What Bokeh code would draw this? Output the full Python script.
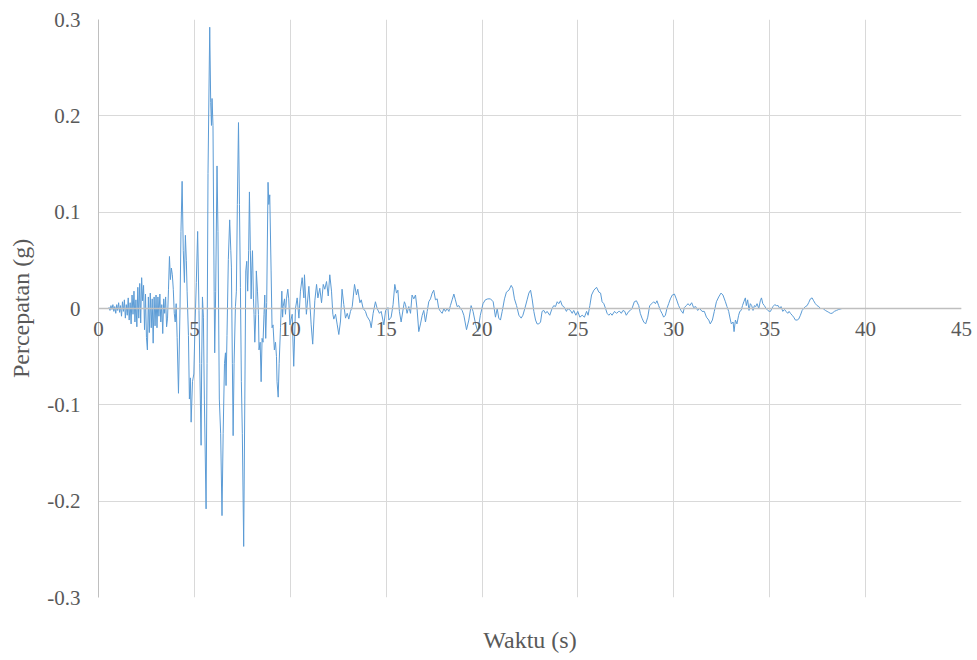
from bokeh.plotting import figure
from bokeh.models import FixedTicker, Span, CustomJSTickFormatter
from bokeh.core.properties import value
from bokeh.embed import file_html
from bokeh.resources import INLINE

# Ground acceleration record: time (s) and acceleration (g)
# 0 - 3.5 s: weak onset
t_onset = [0.00, 0.50, 0.55, 0.60, 0.65, 0.70, 0.75, 0.80, 0.85, 0.90, 0.95, 1.00, 1.05, 1.10, 1.15,
           1.20, 1.25, 1.30, 1.35, 1.40, 1.45, 1.50, 1.55, 1.60, 1.65, 1.70, 1.75, 1.80, 1.85, 1.90,
           1.95, 2.00, 2.05, 2.10, 2.15, 2.20, 2.25, 2.30, 2.35, 2.40, 2.45, 2.50, 2.55, 2.60, 2.65,
           2.70, 2.75, 2.80, 2.85, 2.90, 2.95, 3.00, 3.05, 3.10, 3.15, 3.20, 3.25, 3.30, 3.35, 3.40,
           3.45, 3.50]
a_onset = [0.000, 0.000, 0.001, -0.002, 0.003, -0.001, 0.004, -0.003, 0.002, -0.005, 0.004, -0.002,
           0.006, -0.004, 0.003, -0.008, 0.007, -0.003, 0.009, -0.010, 0.004, -0.007, 0.011, -0.012,
           0.006, -0.016, 0.014, -0.006, 0.018, -0.014, 0.009, -0.019, 0.022, -0.010, 0.026, -0.015,
           0.032, 0.008, 0.024, -0.022, 0.015, -0.030, -0.043, 0.012, -0.025, 0.016, -0.020, 0.010,
           -0.036, 0.012, -0.018, 0.014, -0.020, 0.012, -0.008, 0.015, -0.014, 0.004, -0.026, 0.010,
           -0.005, 0.012]

# 3.5 - 10 s: strong motion
t_strong = [3.55, 3.60, 3.65, 3.70, 3.75, 3.80, 3.85, 3.90, 3.95, 4.00, 4.05, 4.10, 4.17, 4.25, 4.30,
            4.36, 4.42,
            4.48, 4.53, 4.58, 4.62, 4.69, 4.74, 4.79, 4.83, 4.90, 4.97, 5.03, 5.10, 5.17, 5.24, 5.28,
            5.35, 5.38, 5.42, 5.47, 5.52, 5.61, 5.66, 5.71, 5.80, 5.85, 5.89, 5.92, 5.97, 6.03, 6.06,
            6.11, 6.18, 6.23, 6.30, 6.37, 6.44, 6.50, 6.57, 6.62, 6.65, 6.70, 6.77, 6.84, 6.90, 6.93,
            6.98, 7.02, 7.07, 7.14, 7.19, 7.24, 7.30, 7.35, 7.40, 7.45, 7.50, 7.57, 7.63, 7.68, 7.73,
            7.78, 7.83, 7.87, 7.92, 7.96, 7.99, 8.03, 8.08, 8.11, 8.15, 8.20, 8.23, 8.29, 8.34, 8.37,
            8.43, 8.48, 8.53, 8.58, 8.63, 8.67, 8.72, 8.77, 8.84, 8.88, 8.93, 9.00, 9.05, 9.10, 9.17,
            9.23, 9.28, 9.31, 9.37, 9.42, 9.49, 9.56, 9.60, 9.63, 9.70, 9.75, 9.80, 9.87, 9.92]
a_strong = [-0.019, -0.010, 0.020, 0.054, 0.030, 0.042, 0.035, 0.020, -0.005, -0.014, 0.005, -0.030,
            -0.088, 0.000, 0.080, 0.132, 0.060,
            0.027, 0.076, 0.050, 0.018, -0.028, -0.094, -0.072, -0.118, -0.076, -0.068, -0.020, 0.027,
            0.080, -0.002, -0.057, -0.142, -0.057, 0.012, -0.009, -0.094, -0.208, -0.057, 0.140, 0.292,
            0.214, 0.190, 0.218, 0.190, 0.018, -0.046, 0.018, 0.148, 0.080, -0.094, -0.130, -0.215,
            -0.130, -0.057, -0.046, -0.080, -0.028, 0.051, 0.092, 0.060, 0.043, -0.057, -0.132, -0.057,
            0.002, 0.018, 0.108, 0.193, 0.108, 0.022, -0.076, -0.130, -0.247, -0.094, 0.039, 0.049,
            0.018, 0.060, 0.121, 0.060, 0.010, 0.039, 0.060, 0.010, -0.006, -0.035, -0.006, 0.039,
            0.018, -0.006, -0.043, -0.035, -0.076, -0.031, -0.035, -0.006, 0.014, -0.031, 0.006, 0.131,
            0.108, 0.118, 0.039, -0.020, -0.017, -0.043, -0.035, -0.050, -0.076, -0.092, -0.057, -0.020,
            0.018, -0.009, 0.002, 0.010, -0.006, 0.010, 0.020, 0.010]

# 10 - 20.5 s: decay
t_decay = [9.98, 10.10, 10.18, 10.27, 10.36, 10.45, 10.53, 10.62, 10.71, 10.74, 10.84, 10.97, 11.09,
           11.17, 11.28, 11.37, 11.44, 11.54, 11.63, 11.72, 11.80, 11.89, 11.98, 12.06, 12.15, 12.22,
           12.27, 12.36, 12.45, 12.53, 12.62, 12.70, 12.79, 12.88, 12.97, 13.05, 13.14, 13.23, 13.35,
           13.45, 13.52, 13.63, 13.70, 13.80, 13.92, 14.00, 14.15, 14.22, 14.32, 14.44, 14.53, 14.65,
           14.74, 14.88, 14.97, 15.09, 15.14,
           15.26, 15.36, 15.45, 15.54, 15.61, 15.69, 15.78, 15.89, 15.95, 16.01, 16.09, 16.18, 16.27,
           16.35, 16.44, 16.53, 16.61, 16.70, 16.79, 16.88, 16.96, 17.05, 17.14, 17.22, 17.31, 17.40,
           17.48, 17.57, 17.66, 17.74, 17.83, 17.92, 18.01, 18.09, 18.18, 18.27, 18.35, 18.44, 18.53,
           18.61, 18.70, 18.79, 18.87, 18.96, 19.05, 19.19, 19.31, 19.43, 19.53, 19.66, 19.78, 19.91,
           20.05, 20.17, 20.30, 20.44]
a_decay = [-0.017, -0.006, -0.060, 0.000, 0.011, -0.010, 0.018, 0.032, 0.011, 0.035, -0.006, 0.023,
           -0.017, -0.037, 0.008, 0.025, 0.011, 0.021, 0.006, 0.025, 0.020, 0.028, 0.013, 0.035, 0.018,
           -0.006, -0.011, -0.006, -0.017, -0.027, -0.013, 0.020, 0.004, -0.010, -0.005, -0.011, -0.003,
           0.002, 0.025, 0.014, 0.020, 0.006, 0.009, 0.000, -0.003, -0.008, -0.013, -0.020, -0.005,
           0.007, 0.000, -0.005, -0.003, -0.017, -0.002, 0.001, -0.012,
           -0.009, 0.004, 0.025, 0.016, 0.019, -0.003, -0.014, 0.000, 0.007, 0.004, -0.005, 0.002,
           -0.005, 0.014, 0.010, 0.014, 0.000, -0.024, -0.016, -0.007, -0.002, -0.014, -0.003, 0.007,
           0.010, 0.016, 0.019, 0.009, 0.010, 0.000, -0.003, -0.005, 0.000, -0.003, 0.000, -0.003,
           0.003, 0.009, 0.015, 0.009, 0.002, 0.003, 0.000, -0.002, -0.007, -0.022, -0.012, 0.003,
           -0.003, -0.016, -0.024, -0.007, 0.005, 0.009, 0.010, 0.010]

# 20.5 - 40 s: coda
t_coda = [20.58, 20.70, 20.79, 20.87, 20.96, 21.05, 21.17, 21.27, 21.40, 21.52, 21.60, 21.69, 21.80,
          21.92, 22.04, 22.13, 22.23, 22.35, 22.44, 22.53, 22.61, 22.70, 22.79, 22.87, 22.96, 23.05,
          23.13, 23.22, 23.31, 23.39, 23.53, 23.65, 23.74, 23.83, 23.92, 24.00, 24.09, 24.18, 24.26,
          24.40, 24.47, 24.61, 24.70, 24.78, 24.89, 24.99, 25.10, 25.22, 25.34, 25.45, 25.53, 25.62,
          25.71, 25.83, 25.97, 26.09, 26.18, 26.26, 26.35, 26.44, 26.52, 26.61, 26.70, 26.78, 26.91,
          27.01, 27.13,
          27.18, 27.26, 27.35, 27.44, 27.52, 27.65, 27.73, 27.82, 27.94, 28.05, 28.17, 28.25, 28.34,
          28.43, 28.53, 28.64, 28.74, 28.85, 28.95, 29.04, 29.12, 29.21, 29.30, 29.38, 29.47, 29.56,
          29.64, 29.73, 29.82, 29.92, 30.03, 30.13, 30.25, 30.37, 30.48, 30.55, 30.65, 30.74, 30.83,
          30.93, 31.03, 31.14, 31.24, 31.35, 31.47, 31.59, 31.70, 31.82, 31.90, 32.01, 32.11, 32.22,
          32.34, 32.46, 32.56, 32.69, 32.77, 32.86, 32.95, 33.00, 33.09, 33.14, 33.21, 33.29, 33.38,
          33.44, 33.51, 33.58, 33.65, 33.73, 33.78, 33.85, 33.92, 33.99, 34.06, 34.13, 34.20, 34.27,
          34.34, 34.43, 34.51, 34.57, 34.64, 34.72, 34.81, 34.90, 34.98, 35.04, 35.11, 35.17, 35.26,
          35.35, 35.44, 35.52, 35.59, 35.68, 35.77, 35.85, 35.94, 36.01, 36.08, 36.17, 36.25, 36.34,
          36.43, 36.51, 36.60, 36.69, 36.77, 36.86, 36.95, 37.03, 37.12, 37.21, 37.29, 37.38, 37.47,
          37.56, 37.64, 37.78, 37.90, 37.99, 38.08, 38.16, 38.25, 38.37, 38.48, 38.60, 38.77, 38.95,
          39.12, 39.29, 39.47, 39.73, 39.90]
a_coda = [0.007, -0.009, 0.000, -0.010, -0.012, -0.003, 0.010, 0.017, 0.019, 0.024, 0.021, 0.010,
          0.003, -0.007, -0.010, -0.007, 0.000, 0.009, 0.016, 0.019, 0.010, -0.003, -0.012, -0.016,
          -0.016, -0.014, -0.003, -0.002, -0.005, -0.003, -0.007, 0.000, 0.003, 0.002, 0.007, 0.005,
          0.008, 0.003, 0.002, -0.003, 0.000, -0.002, -0.005, -0.002, -0.007, -0.003, -0.009, -0.007,
          -0.009, -0.003, -0.007, 0.003, 0.014, 0.019, 0.022, 0.017, 0.016, 0.007, 0.005, 0.000,
          -0.005, -0.007, -0.005, -0.007, -0.003, -0.005, -0.003,
          -0.003, -0.005, -0.002, -0.003, -0.007, -0.003, -0.002, 0.000, 0.007, 0.008, 0.003, -0.005,
          -0.010, -0.014, -0.016, -0.009, 0.003, 0.005, 0.007, 0.005, 0.008, 0.003, -0.002, -0.005,
          -0.009, -0.007, 0.000, 0.005, 0.010, 0.014, 0.015, 0.010, 0.003, -0.002, -0.005, 0.001,
          0.003, 0.005, 0.003, 0.006, 0.001, 0.002, -0.002, 0.000, -0.003, -0.003, -0.009, -0.012,
          -0.016, -0.012, -0.003, 0.007, 0.012, 0.016, 0.014, 0.007, 0.002, -0.003, -0.012, -0.016,
          -0.014, -0.024, -0.012, -0.016, -0.007,
          -0.003, -0.002, 0.003, 0.007, 0.011, 0.003, 0.009, -0.002, 0.005, 0.003, -0.002, 0.003,
          0.002, 0.005, 0.000, 0.008, 0.011, 0.005, 0.003, 0.000, -0.002, -0.003, -0.003, 0.000,
          0.002, 0.004, 0.003, 0.003, 0.000, 0.002, -0.003, -0.001, -0.003, -0.005, -0.003, -0.005,
          -0.007, -0.009, -0.012, -0.012, -0.011, -0.007, -0.002, 0.000, 0.002, 0.003, 0.006, 0.010,
          0.011, 0.008, 0.005, 0.003, 0.002, 0.000, 0.000, -0.002, -0.003, -0.004, -0.005, -0.005,
          -0.003, -0.002, -0.001, 0.000, 0.000, 0.000, 0.000, 0.000, 0.000, 0.000]

x_ticks = [0, 5, 10, 15, 20, 25, 30, 35, 40, 45]
x_tick_labels = ["0", "5", "10", "15", "20", "25", "30", "35", "40", "45"]
y_ticks = [-0.3, -0.2, -0.1, 0.0, 0.1, 0.2, 0.3]

time_s = t_onset + t_strong + t_decay + t_coda
accel_g = a_onset + a_strong + a_decay + a_coda
assert len(time_s) == len(accel_g)

FONT = "Liberation Serif"
TEXT = "#595959"
GRID = "#d9d9d9"
AXIS = "#bfbfbf"

p = figure(width=977, height=660, x_range=(0, 45), y_range=(-0.3, 0.3),
           output_backend="svg", toolbar_location=None,
           min_border_left=98, min_border_right=16, min_border_top=19, min_border_bottom=63)
p.outline_line_color = None
p.background_fill_color = "white"
p.border_fill_color = "white"

p.xgrid.ticker = FixedTicker(ticks=x_ticks)
p.ygrid.ticker = FixedTicker(ticks=y_ticks)
p.xgrid.grid_line_color = GRID
p.ygrid.grid_line_color = GRID
p.xgrid.grid_line_width = 1
p.ygrid.grid_line_width = 1

# y axis on the left
yax = p.yaxis[0]
yax.ticker = FixedTicker(ticks=y_ticks)
yax.formatter = CustomJSTickFormatter(code="return tick == 0 ? '0' : tick.toFixed(1);")
yax.axis_line_color = AXIS
yax.axis_line_width = 1
yax.major_tick_line_color = None
yax.minor_tick_line_color = None
yax.major_tick_out = 0
yax.major_tick_in = 0
yax.major_label_standoff = 18
yax.major_label_text_font = FONT
yax.major_label_text_font_size = "21px"
yax.major_label_text_color = TEXT
yax.axis_label = "Percepatan (g)"
yax.axis_label_text_font = FONT
yax.axis_label_text_font_size = "24px"
yax.axis_label_text_font_style = "normal"
yax.axis_label_text_color = TEXT
yax.axis_label_standoff = 10

# x axis below carries only the title; tick labels sit on the zero line
xax = p.xaxis[0]
xax.ticker = FixedTicker(ticks=[])
xax.axis_line_color = None
xax.major_tick_line_color = None
xax.minor_tick_line_color = None
xax.major_tick_out = 0
xax.major_label_standoff = 0
xax.axis_label = "Waktu (s)"
xax.axis_label_text_font = FONT
xax.axis_label_text_font_size = "24px"
xax.axis_label_text_font_style = "normal"
xax.axis_label_text_color = TEXT
xax.axis_label_standoff = 29

p.add_layout(Span(location=0, dimension="width", line_color=AXIS, line_width=1.5))

p.line(time_s, accel_g, line_color="#5B9BD5", line_width=1)

lbl = p.text(x=x_ticks, y=[0] * len(x_ticks), text=x_tick_labels,
             text_font=value(FONT), text_font_size="21px", text_color=TEXT,
             text_align="center", text_baseline="top", y_offset=13)
lbl.level = "overlay"

open("out.html", "w").write(file_html(p, INLINE))
